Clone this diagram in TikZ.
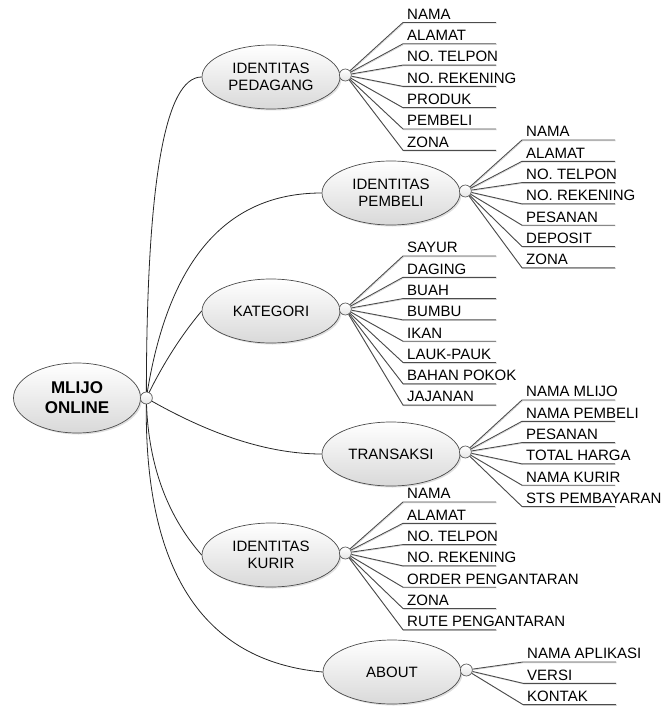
\documentclass[tikz,border=0pt]{standalone}
\usepackage{fontspec}
\setmainfont{Liberation Sans}
\usetikzlibrary{positioning,shapes.geometric,shadows}

% leaves of one topic: #1 topic, #2 x, #3 first y, #4 labels
\newcommand{\twigs}[4]{%
  \foreach \lbl [count=\i] in {#4} {
    \node[leaf] (#1\i) at (#2,{#3-21.3*(\i-1)}) {\lbl};
    \draw[twig] (#1-k) -- (#1\i.south west) -- +(93,0);
  }}

\begin{document}
\begin{tikzpicture}[x=1pt,y=1pt,
    font=\fontsize{15}{17}\selectfont,
    topic/.style={ellipse,draw=black!70,line width=0.7pt,top color=white,bottom color=black!15,
      minimum width=138pt,minimum height=64pt,inner sep=0pt,align=center,
      drop shadow={shadow xshift=1.5pt,shadow yshift=-1.5pt,opacity=0.25}},
    hub/.style={topic,minimum width=127pt,minimum height=70pt,
      font=\fontsize{17}{20}\selectfont\bfseries},
    knob/.style={circle,draw=black!65,line width=0.7pt,top color=white,bottom color=black!10,
      minimum size=12pt,inner sep=0pt},
    leaf/.style={anchor=south west,inner xsep=4pt,inner ysep=3pt,text depth=0pt},
    branch/.style={line width=0.8pt,black!85},
    twig/.style={line width=0.9pt,black!70,
      preaction={draw=black!22,transform canvas={shift={(0.8pt,-0.8pt)}}}}]
  \useasboundingbox (0,0) rectangle (668,-706);

  \node[hub]   (root) at (77,-398)  {MLIJO\\ONLINE};
  \node[topic] (ped)  at (271,-77)  {IDENTITAS\\PEDAGANG};
  \node[topic] (pem)  at (391,-193) {IDENTITAS\\PEMBELI};
  \node[topic] (kat)  at (271,-311) {KATEGORI};
  \node[topic] (tra)  at (391,-454) {TRANSAKSI};
  \node[topic] (kur)  at (271,-555) {IDENTITAS\\KURIR};
  \node[topic] (abo)  at (392,-672) {ABOUT};

  % branches from the centre
  \coordinate (root-c) at ([xshift=5.5pt]root.east);
  \draw[branch] (root-c) .. controls +(0,214)    and +(-37,0)   .. (ped.west);
  \draw[branch] (root-c) .. controls +(21,137)   and +(-96,0)   .. (pem.west);
  \draw[branch] (root-c) .. controls +(16,33)    and +(-21,-25) .. (kat.west);
  \draw[branch] (root-c) .. controls +(64,-37)   and +(-53,0)   .. (tra.west);
  \draw[branch] (root-c) .. controls +(1,-63)    and +(-36,41)  .. (kur.west);
  \draw[branch] (root-c) .. controls +(-3,-171)  and +(-121,11) .. (abo.west);
  \node[knob] (root-k) at (root-c) {};

  \foreach \n in {ped,pem,kat,tra,kur,abo}
    \node[knob] (\n-k) at ([xshift=5pt,yshift=2pt]\n.east) {};

  \twigs{ped}{403}{-22.5}{NAMA,ALAMAT,NO. TELPON,NO. REKENING,PRODUK,PEMBELI,ZONA}
  \twigs{pem}{522}{-140}{NAMA,ALAMAT,NO. TELPON,NO. REKENING,PESANAN,DEPOSIT,ZONA}
  \twigs{kat}{403}{-256}{SAYUR,DAGING,BUAH,BUMBU,IKAN,LAUK-PAUK,BAHAN POKOK,JAJANAN}
  \twigs{tra}{522}{-400}{NAMA MLIJO,NAMA PEMBELI,PESANAN,TOTAL HARGA,NAMA KURIR,STS PEMBAYARAN}
  \twigs{kur}{403}{-502}{NAMA,ALAMAT,NO. TELPON,NO. REKENING,ORDER PENGANTARAN,ZONA,RUTE PENGANTARAN}
  \twigs{abo}{523}{-662}{NAMA APLIKASI,VERSI,KONTAK}
\end{tikzpicture}
\end{document}
